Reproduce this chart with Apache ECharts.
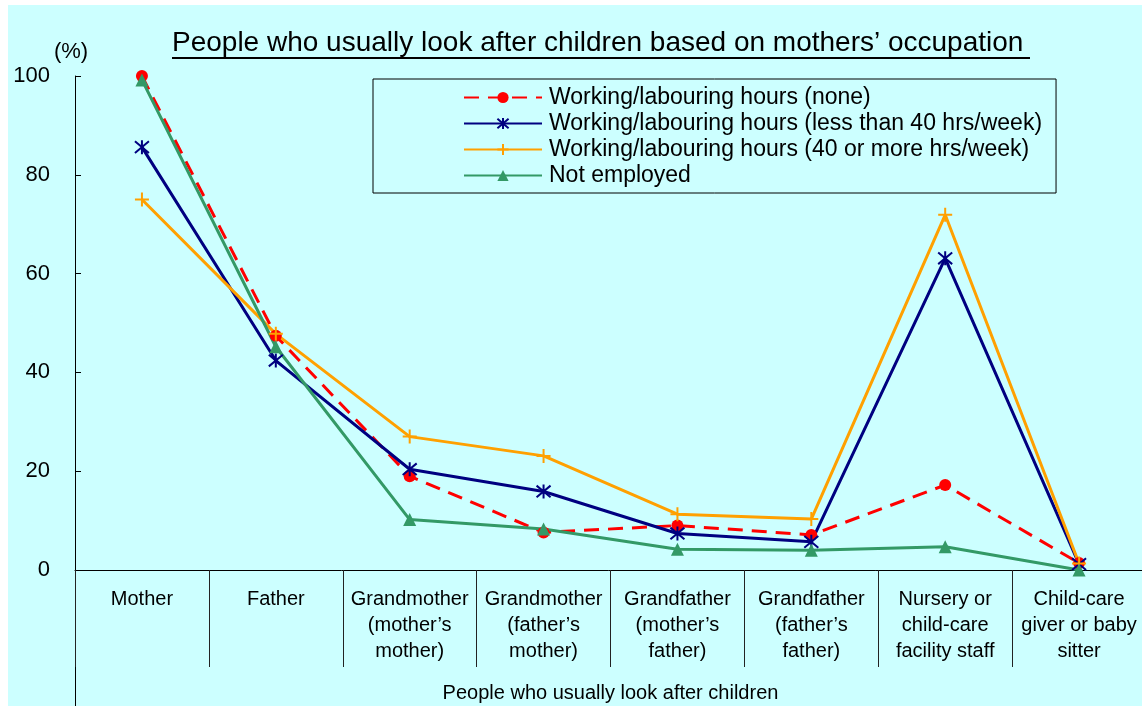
<!DOCTYPE html>
<html lang="en">
<head>
	<meta charset="utf-8">
	<title>People who usually look after children</title>
	<script src="https://cdn.jsdelivr.net/npm/echarts@6/dist/echarts.min.js"></script>
	<style type="text/css">
		html, body {
			margin: 0;
			padding: 0;
			background: #fff;
		}
		.wrap {
			position: relative;
			width: 1142px;
			height: 706px;
			overflow: hidden;
		}
		.bg {
			position: absolute;
			left: 8px;
			top: 5px;
			right: 0;
			bottom: 0;
			background: #ccffff;
		}
		#chart {
			position: absolute;
			left: 0;
			top: 0;
			width: 1142px;
			height: 706px;
		}
	</style>
</head>
<body>
	<div class="wrap">
		<div class="bg"></div>
		<div id="chart"></div>
	</div>
	<script type="text/javascript">
		var categories = [
			'Mother',
			'Father',
			'Grandmother\n(mother\u2019s\nmother)',
			'Grandmother\n(father\u2019s\nmother)',
			'Grandfather\n(mother\u2019s\nfather)',
			'Grandfather\n(father\u2019s\nfather)',
			'Nursery or\nchild-care\nfacility staff',
			'Child-care\ngiver or baby\nsitter'
		];
		var seriesNames = [
			'Working/labouring hours (none)',
			'Working/labouring hours (less than 40 hrs/week)',
			'Working/labouring hours (40 or more hrs/week)',
			'Not employed'
		];
		var hoursNone   = [100, 47.4, 19.0, 7.6, 9.0, 7.1, 17.2, 1.4];
		var hoursUnder40 = [85.6, 42.4, 20.4, 15.9, 7.4, 5.7, 63.1, 1.2];
		var hours40Plus = [75.0, 47.8, 27.0, 23.1, 11.3, 10.3, 71.9, 1.3];
		var notEmployed = [99.2, 45.2, 10.2, 8.3, 4.2, 4.0, 4.7, 0];
		var yTicks = [0, 20, 40, 60, 80, 100];

		var FONT = 'Arial, "Liberation Sans", sans-serif';
		var chart = echarts.init(document.getElementById('chart'), null, { renderer: 'canvas' });

		var option = {
			backgroundColor: 'transparent',
			animation: false,
			textStyle: { fontFamily: FONT, color: '#000' },
			title: {
				text: 'People who usually look after children based on mothers\u2019 occupation',
				left: 172,
				top: 29,
				padding: 0,
				textStyle: { fontFamily: FONT, fontSize: 28, fontWeight: 'normal', color: '#000' }
			},
			graphic: [
				// title underline
				{ type: 'line', shape: { x1: 172, y1: 58, x2: 1030, y2: 58 }, style: { stroke: '#000', lineWidth: 2 } },
				// y axis carries on below the x axis
				{ type: 'line', shape: { x1: 75.5, y1: 570, x2: 75.5, y2: 706 }, style: { stroke: '#000', lineWidth: 1 } }
			],
			legend: {
				data: seriesNames,
				orient: 'vertical',
				left: 373,
				top: 79,
				padding: [7, 14, 6, 90],
				itemWidth: 78,
				itemHeight: 14,
				itemGap: 3,
				borderColor: '#000',
				borderWidth: 1,
				textStyle: { fontFamily: FONT, fontSize: 23, lineHeight: 22, color: '#000', padding: [0, 0, 0, 2] }
			},
			grid: {
				left: 75,
				top: 76,
				width: 1071,
				height: 494,
				outerBoundsMode: 'none',
				containLabel: false
			},
			xAxis: {
				type: 'category',
				data: categories,
				boundaryGap: true,
				name: 'People who usually look after children',
				nameLocation: 'middle',
				nameGap: 113,
				nameTextStyle: { fontFamily: FONT, fontSize: 20, color: '#000' },
				axisLine: { show: true, lineStyle: { color: '#000', width: 1 } },
				axisTick: { show: true, interval: 0, length: 97, alignWithLabel: false, lineStyle: { color: '#222', width: 1 } },
				axisLabel: { interval: 0, margin: 16, fontSize: 20, lineHeight: 26, color: '#000', fontFamily: FONT },
				splitLine: { show: false }
			},
			yAxis: {
				type: 'value',
				min: yTicks[0],
				max: yTicks[yTicks.length - 1],
				interval: yTicks[1] - yTicks[0],
				name: '(%)',
				nameLocation: 'end',
				nameGap: 13,
				nameTextStyle: { fontFamily: FONT, fontSize: 22, color: '#000', align: 'center', padding: [0, 8, 0, 0] },
				axisLine: { show: true, lineStyle: { color: '#000', width: 1 } },
				axisTick: { show: true, inside: true, length: 6, lineStyle: { color: '#000' } },
				axisLabel: { margin: 25, fontSize: 22, color: '#000', fontFamily: FONT },
				splitLine: { show: false }
			},
			series: [
				{
					name: seriesNames[0],
					type: 'line',
					data: hoursNone,
					symbol: 'circle',
					symbolSize: 12,
					color: '#ff0000',
					lineStyle: { color: '#ff0000', width: 3, type: [15, 9] },
					itemStyle: { color: '#ff0000' }
				},
				{
					name: seriesNames[1],
					type: 'line',
					data: hoursUnder40,
					symbol: 'path://M-5,-5L5,5M-5,5L5,-5M0,-6L0,6',
					symbolSize: 14,
					color: '#000080',
					lineStyle: { color: '#000080', width: 3 },
					itemStyle: { color: '#000080', borderColor: '#000080', borderWidth: 2 }
				},
				{
					name: seriesNames[2],
					type: 'line',
					data: hours40Plus,
					symbol: 'path://M0,-6L0,6M-6,0L6,0',
					symbolSize: 14,
					color: '#ffa000',
					lineStyle: { color: '#ffa000', width: 3 },
					itemStyle: { color: '#ffa000', borderColor: '#ffa000', borderWidth: 2 }
				},
				{
					name: seriesNames[3],
					type: 'line',
					data: notEmployed,
					symbol: 'triangle',
					symbolSize: 13,
					color: '#339966',
					lineStyle: { color: '#339966', width: 3 },
					itemStyle: { color: '#339966' }
				}
			]
		};

		chart.setOption(option);
	</script>
</body>
</html>
